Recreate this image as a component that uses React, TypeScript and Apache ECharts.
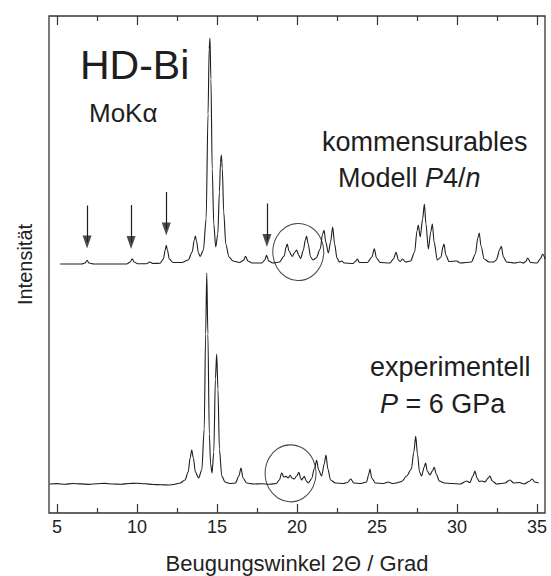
import React, { useEffect, useRef } from "react";
import * as echarts from "echarts";

// 2θ / intensity (relative to each pattern's own baseline)
const modelPattern: number[][] = [
  [5.2, 0], [6.55, 0], [6.75, 1], [6.88, 3.7], [7.0, 1], [7.3, 0],
  [9.35, 0], [9.58, 2], [9.7, 5.3], [9.82, 2], [10.05, 0.3], [10.6, 0.3], [10.8, 2], [11.0, 0.5],
  [11.45, 0.8], [11.65, 5], [11.76, 14], [11.83, 18.7], [11.9, 14], [12.02, 5], [12.25, 1.5],
  [12.8, 1.5], [13.2, 4], [13.45, 12], [13.58, 24], [13.65, 28], [13.72, 23], [13.84, 11], [13.95, 7.6],
  [14.15, 14], [14.32, 45], [14.44, 150], [14.51, 215], [14.56, 226], [14.62, 185], [14.7, 95], [14.8, 40],
  [14.92, 17], [15.05, 30], [15.15, 72], [15.22, 102], [15.27, 109], [15.33, 96], [15.42, 52], [15.55, 20],
  [15.75, 7], [16.0, 3], [16.4, 1.5], [16.65, 3.5], [16.79, 7.6], [16.93, 3], [17.2, 1], [17.8, 1],
  [17.97, 3.5], [18.1, 8.6], [18.23, 3], [18.5, 1], [18.9, 2], [19.2, 8], [19.32, 17], [19.39, 20],
  [19.5, 13], [19.7, 7.6], [19.87, 12], [19.98, 14], [20.1, 9], [20.23, 5.6], [20.4, 14], [20.52, 24],
  [20.6, 27.6], [20.7, 20], [20.85, 7], [21.0, 4], [21.2, 6], [21.45, 15], [21.6, 30], [21.69, 33.6],
  [21.8, 22], [21.96, 11], [22.1, 22], [22.23, 37], [22.35, 20], [22.5, 6], [22.65, 2], [22.8, 3],
  [22.95, 1], [23.5, 0.5], [23.65, 2.5], [23.77, 5], [23.9, 1.5], [24.4, 1.5], [24.68, 7], [24.83, 15.3],
  [24.97, 6], [25.2, 1.5], [25.8, 1], [26.03, 5], [26.19, 11.6], [26.34, 4], [26.45, 2.5], [26.6, 5],
  [26.78, 2], [27.1, 3], [27.35, 12], [27.5, 33], [27.58, 39], [27.7, 27], [27.85, 45], [27.96, 60],
  [28.06, 40], [28.21, 15], [28.36, 32], [28.46, 40], [28.57, 22], [28.77, 4], [29.0, 7], [29.12, 17],
  [29.19, 20], [29.3, 9], [29.5, 2.5], [29.98, 3], [30.2, 1], [30.9, 2], [31.15, 10], [31.3, 26],
  [31.39, 31], [31.5, 18], [31.7, 5], [32.0, 2], [32.3, 2], [32.45, 4], [32.69, 15], [32.77, 17.6],
  [32.9, 7], [33.1, 2], [33.6, 1], [33.94, 2], [34.15, 1], [34.3, 2.5], [34.42, 6], [34.6, 1.5],
  [35.0, 1], [35.2, 5], [35.36, 10], [35.5, 5],
];

const expPattern: number[][] = [
  [4.55, 0], [5.0, 0.4], [5.5, -0.3], [6.0, 0.5], [6.5, 0.1], [7.0, -0.4], [7.5, 0.3], [8.0, 0.6],
  [8.5, 0], [9.0, -0.3], [9.5, 0.5], [10.0, 0.8], [10.5, 0.2], [11.0, -0.5], [11.5, -0.8], [12.0, -1],
  [12.3, -0.5], [12.7, 1], [13.0, 4], [13.2, 12], [13.32, 26], [13.42, 34], [13.52, 26], [13.65, 12],
  [13.85, 6], [14.05, 14], [14.2, 55], [14.29, 150], [14.36, 211], [14.43, 150], [14.52, 50], [14.6, 20],
  [14.69, 11], [14.8, 32], [14.9, 105], [14.98, 130], [15.06, 95], [15.15, 35], [15.3, 8], [15.5, 2],
  [15.8, 0.5], [16.15, 1], [16.37, 8], [16.5, 16], [16.63, 6], [16.85, 1], [17.3, 0], [17.8, 0.3],
  [18.3, -0.2], [18.7, 0.5], [18.9, 4], [19.04, 11], [19.17, 7], [19.31, 7.6], [19.45, 6], [19.56, 8.6],
  [19.7, 6], [19.83, 5], [19.98, 8], [20.12, 11.6], [20.22, 6], [20.29, 4], [20.38, 6], [20.46, 7.6],
  [20.58, 3], [20.71, 1], [20.9, 5], [21.1, 16], [21.23, 23.6], [21.35, 14], [21.54, 8], [21.7, 20],
  [21.81, 29], [21.93, 15], [22.1, 4], [22.4, 1], [22.9, 0.5], [23.15, 1.5], [23.36, 5], [23.55, 1],
  [24.0, 0.5], [24.35, 2], [24.47, 9], [24.56, 15], [24.67, 6], [24.9, 1], [25.4, 0.5], [25.71, 2],
  [25.95, 0.5], [26.2, 1], [26.55, 2.5], [26.85, 8], [27.15, 15], [27.3, 32], [27.42, 47.6], [27.53, 30],
  [27.66, 12], [27.79, 8], [27.95, 17], [28.04, 21], [28.14, 13], [28.31, 9], [28.46, 13], [28.58, 16.6],
  [28.7, 10], [28.9, 3], [29.2, 1], [29.7, 0.5], [30.2, 0], [30.6, 3], [30.8, 1.5], [31.0, 8],
  [31.12, 13], [31.25, 6], [31.4, 2.5], [31.55, 3], [31.75, 2], [31.95, 6], [32.06, 8], [32.2, 3],
  [32.48, 0], [33.0, 1], [33.3, 4], [33.55, 1], [33.9, 1.5], [34.2, 0], [34.5, 2.5], [34.7, 5],
  [34.85, 2], [35.1, 1],
];

// arrows above the model pattern: 2θ, tail height, tip height (relative to model baseline)
const arrowX = [6.88, 9.63, 11.83, 18.12];
const arrowTail = [58.5, 59, 72, 60.5];
const arrowTip = [15.5, 15, 28.5, 17];

// encircled regions: 2θ centre, height centre (relative to own baseline)
const circleModel = [20.08, 12];
const circleExp = [19.6, 10.7];

const majorTicks = [5, 10, 15, 20, 25, 30, 35];
const minorTicks = [7.5, 12.5, 17.5, 22.5, 27.5, 32.5];

const MODEL_BASE = 249;
const EXP_BASE = 29;
const Y_MAX = 497;
const HEAD_H = 13;

const FONT = "'Liberation Sans', Arial, Helvetica, sans-serif";
const INK = "#1e1e1e";

export default function App() {
  const ref = useRef<HTMLDivElement>(null);
  useEffect(() => {
    if (!ref.current) return;
    const chart = echarts.init(ref.current, undefined, { renderer: "svg" });
    const tickAxis = (pos: string, values: number[], len: number, main: boolean) => ({
      type: "value",
      min: 4.5,
      max: 35.5,
      position: pos,
      axisLine: { show: false, onZero: false },
      axisTick: { show: true, inside: true, length: len, customValues: values, lineStyle: { color: "#333", width: 1.2 } },
      axisLabel: main && pos === "bottom"
        ? { show: true, customValues: values, fontSize: 18, color: "#222", margin: 5, fontFamily: FONT }
        : { show: false },
      splitLine: { show: false },
      ...(main && pos === "bottom"
        ? {
            name: "Beugungswinkel 2Θ / Grad",
            nameLocation: "middle",
            nameGap: 39,
            nameTextStyle: { fontSize: 22, color: "#222", fontFamily: FONT },
          }
        : {}),
    });
    const lineStyle = { color: INK, width: 1.1 };
    chart.setOption({
      animation: false,
      backgroundColor: "#fff",
      grid: {
        left: 49, right: 6, top: 16, bottom: 63,
        outerBoundsMode: "none", containLabel: false,
        show: true, borderColor: "#333", borderWidth: 1.3,
      },
      xAxis: [
        tickAxis("bottom", majorTicks, 9, true),
        tickAxis("bottom", minorTicks, 5, false),
        tickAxis("top", majorTicks, 9, false),
        tickAxis("top", minorTicks, 5, false),
      ],
      yAxis: [
        {
          type: "value",
          min: 0,
          max: Y_MAX,
          axisLine: { show: false },
          axisTick: { show: false },
          axisLabel: { show: false },
          splitLine: { show: false },
          name: "Intensität",
          nameLocation: "middle",
          nameGap: 14,
          nameTextStyle: { fontSize: 20, color: "#222", fontFamily: FONT },
        },
      ],
      series: [
        {
          type: "line",
          data: modelPattern.map(([x, v]) => [x, v + MODEL_BASE]),
          showSymbol: false,
          smooth: 0.3,
          smoothMonotone: "x",
          lineStyle,
          silent: true,
          markLine: {
            silent: true,
            symbol: ["none", "none"],
            label: { show: false },
            lineStyle: { color: INK, width: 1.2, type: "solid" },
            data: arrowX.map((x, i) => [
              { coord: [x, MODEL_BASE + arrowTail[i]] },
              { coord: [x, MODEL_BASE + arrowTip[i] + HEAD_H / 2] },
            ]),
          },
        },
        {
          type: "line",
          data: expPattern.map(([x, v]) => [x, v + EXP_BASE]),
          showSymbol: false,
          smooth: 0.3,
          smoothMonotone: "x",
          lineStyle,
          silent: true,
        },
        {
          type: "scatter",
          silent: true,
          symbol: "triangle",
          symbolRotate: 180,
          symbolSize: [9, HEAD_H],
          itemStyle: { color: INK },
          data: arrowX.map((x, i) => [x, MODEL_BASE + arrowTip[i] + HEAD_H / 2]),
          z: 5,
        },
        {
          type: "scatter",
          silent: true,
          symbol: "circle",
          symbolSize: [51, 57],
          itemStyle: { color: "rgba(0,0,0,0)", borderColor: INK, borderWidth: 1.1 },
          data: [
            [circleModel[0], MODEL_BASE + circleModel[1]],
            [circleExp[0], EXP_BASE + circleExp[1]],
          ],
          z: 5,
        },
      ],
      graphic: [
        { type: "text", x: 80, y: 65, style: { text: "HD-Bi", fontSize: 41, fontFamily: FONT, fill: INK, verticalAlign: "middle" } },
        { type: "text", x: 89, y: 113, style: { text: "MoKα", fontSize: 26, fontFamily: FONT, fill: INK, verticalAlign: "middle" } },
        { type: "text", x: 322, y: 142, style: { text: "kommensurables", fontSize: 27, fontFamily: FONT, fill: INK, verticalAlign: "middle" } },
        {
          type: "text", x: 338, y: 177.5,
          style: {
            text: "Modell {i|P}4/{i|n}", fontSize: 27, fontFamily: FONT, fill: INK, verticalAlign: "middle",
            rich: { i: { fontStyle: "italic", fontSize: 27, fontFamily: FONT, fill: INK } },
          },
        },
        { type: "text", x: 370, y: 367, style: { text: "experimentell", fontSize: 27, fontFamily: FONT, fill: INK, verticalAlign: "middle" } },
        {
          type: "text", x: 380, y: 403.6,
          style: {
            text: "{i|P} = 6 GPa", fontSize: 27, fontFamily: FONT, fill: INK, verticalAlign: "middle",
            rich: { i: { fontStyle: "italic", fontSize: 27, fontFamily: FONT, fill: INK } },
          },
        },
      ],
    });
    return () => chart.dispose();
  }, []);
  return <div ref={ref} style={{ width: 551, height: 576, position: "absolute", left: 0, top: 0 }} />;
}
